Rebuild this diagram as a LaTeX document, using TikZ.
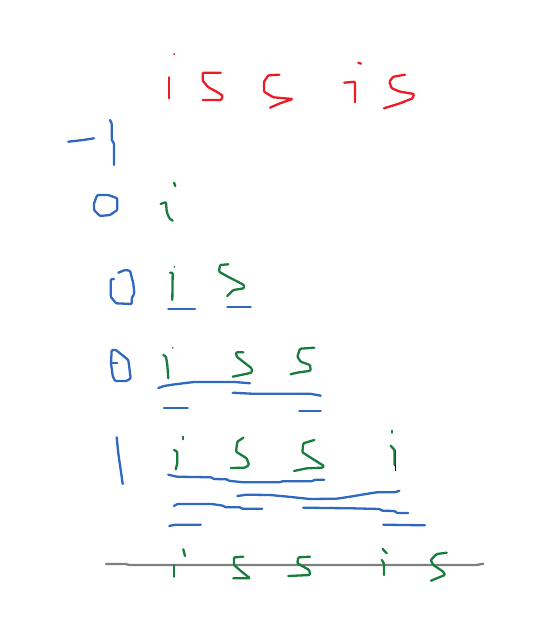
\documentclass[tikz,border=0pt]{standalone}
\usepackage{tikz}
\definecolor{penred}{RGB}{237,28,36}
\definecolor{penblue}{RGB}{48,104,192}
\definecolor{pengreen}{RGB}{24,124,60}
\definecolor{pengrey}{RGB}{127,127,127}
\tikzset{
    stroke/.style={line width=2.3pt,line join=round,line cap=round,rounded corners=1pt},
    redpen/.style={stroke,draw=penred},
    bluepen/.style={stroke,draw=penblue},
    greenpen/.style={stroke,draw=pengreen},
    greypen/.style={stroke,draw=pengrey},
}
\begin{document}
\begin{tikzpicture}[x=1pt,y=-1pt]
    \useasboundingbox (0,0) rectangle (545,642);
    % top row
    \draw [redpen,line width=1.6pt] (174,54) -- (174.2,54.2);
    \draw [redpen] (169,77.3) -- (169,98.3);
    \draw [redpen] (220.7,72.7) -- (202.7,72.7) -- (202.7,80.7) -- (208.3,87.3) -- (216.7,91.7) -- (222.7,95.7) -- (221.3,100) -- (202.7,100);
    \draw [redpen] (279.3,74.7) -- (268.3,75.3) -- (264,81.7) -- (264,91.7) -- (273.3,97.3) -- (292.7,99) -- (280,103.3) -- (270,107.7);
    \draw [redpen] (358.3,62.7) -- (361,63.7);
    \draw [redpen] (344.3,82.7) -- (355,81.7) -- (355,102.3);
    \draw [redpen] (405,74.7) -- (393.3,76.7) -- (389.3,81.7) -- (391.7,88.3) -- (400,91.7) -- (414,94) -- (412.7,98.3) -- (400,103.3) -- (384,108.3);
    % left column
    \draw [bluepen] (68.3,141.7) -- (83.3,140) -- (94,138.3);
    \draw [bluepen] (110,120) -- (111.7,123.3) -- (111.7,140) -- (114,143.3) -- (114,165);
    \draw [bluepen] (97.3,195) -- (108.3,195) -- (117.3,198.3) -- (117.3,210) -- (110,215) -- (100,216) -- (94,210) -- (94,203.3) -- cycle;
    \draw [bluepen] (114,279) -- (110.7,279.3) -- (110.7,296.7) -- (116,303.3) -- (131.7,304) -- (131.7,298.3) -- (134.3,293.3) -- (133.3,283.3) -- (130,270.7) -- (125,270) -- (118.3,272.7);
    \draw [bluepen] (111.7,350) -- (116,350) -- (128.3,360) -- (130.7,378.3) -- (126.7,381) -- (115,381) -- (112.7,376) -- (111,363.3) -- cycle;
    \draw [bluepen] (111,363.3) -- (117.3,363.3);
    \draw [bluepen] (116.7,437.3) -- (118.3,453.3) -- (120.7,470) -- (122.7,484);
    % row 1
    \draw [greenpen] (174,182.7) -- (175.3,186);
    \draw [greenpen] (160.7,204) -- (166,202) -- (166.7,211.7) -- (169.3,218.3) -- (172.7,220.7);
    % row 2
    \draw [greenpen,line width=1.6pt] (174.3,266.7) -- (174.4,267);
    \draw [greenpen] (170,272.7) -- (172.7,272.7) -- (172.3,300);
    \draw [greenpen] (228.3,264.3) -- (220,265) -- (219,271.7) -- (226.7,276) -- (244,285) -- (244,288.3) -- (233.3,290) -- (227.3,296);
    \draw [bluepen] (168.3,308.7) -- (195,308.7);
    \draw [bluepen] (227.3,306.7) -- (250.7,306.7);
    % row 3
    \draw [greenpen,line width=1.6pt] (172.7,347.7) -- (172.8,348);
    \draw [greenpen] (163.3,355) -- (166,356.7) -- (167.3,365) -- (168.3,378.3);
    \draw [greenpen] (243.3,352.3) -- (236,352.3) -- (236.7,356.7) -- (251.7,368.3) -- (251.7,372.7) -- (232.7,376.7);
    \draw [greenpen] (314.3,347.7) -- (300,348.7) -- (297.3,356.7) -- (300.7,361.7) -- (310,365) -- (310.7,370.7) -- (296.7,372.7) -- (290.7,374.3);
    \draw [bluepen] (158.3,388) -- (164,386) -- (175,384.3) -- (194,382) -- (235,382) -- (250,383.3);
    \draw [bluepen] (232.7,392.7) -- (251.7,393.7) -- (310,393.7) -- (320.7,395.7);
    \draw [bluepen] (164,407.7) -- (187.7,407.7);
    \draw [bluepen] (299.3,410.7) -- (320.7,410.7);
    % row 4
    \draw [greenpen] (182.7,436.7) -- (182.7,439.3);
    \draw [greenpen] (174,450) -- (177.3,451.7) -- (177.3,463.3) -- (175.7,469.3);
    \draw [greenpen] (243.3,437.7) -- (237.3,441.7) -- (236,451.7) -- (246.7,458.3) -- (249,465) -- (245,467.7) -- (230.7,468);
    \draw [greenpen] (314.3,440) -- (303.3,443.3) -- (302.3,452.3) -- (313.3,459.3) -- (324,466) -- (322.7,467.7) -- (306.7,468.3) -- (294,471);
    \draw [greenpen] (391.7,430.7) -- (391.7,432.7);
    \draw [black,line width=.6pt] (395.3,450) -- (395.3,470.7);
    \draw [greenpen] (390.7,445.7) -- (394.5,450) -- (394.5,465);
    \draw [bluepen] (168.3,474.7) -- (176.7,476.7) -- (211.7,477.3) -- (213.3,479) -- (227.3,479.3) -- (228.3,480.7) -- (243.3,482.3) -- (280,482.3) -- (281.7,481.3) -- (311.7,481.3) -- (315,479.7) -- (324.3,479.7);
    \draw [bluepen] (237.3,496) -- (246.7,494.7) -- (270,495) -- (288.3,496.7) -- (310,499) -- (336.7,498.7) -- (350,496.7) -- (361.7,494.7) -- (376.7,492.3) -- (395,492.3) -- (399.3,490.7);
    \draw [bluepen] (174,506) -- (177.3,504) -- (211.7,504) -- (223.3,505.7) -- (225,507.3) -- (240.7,507.3) -- (241.7,508.7) -- (262.3,508.7);
    \draw [bluepen] (303.3,507.7) -- (351.7,508.3) -- (380,509) -- (381.7,510.7) -- (395,511) -- (396.7,513) -- (408.3,513);
    \draw [bluepen] (169.3,526) -- (175,524.7) -- (200.7,524.7);
    \draw [bluepen] (383.3,524.7) -- (425,525.3);
    % bottom row
    \draw [greypen] (106,564) -- (126.7,564) -- (128.3,565) -- (476.7,565) -- (483.3,563.7);
    \draw [greenpen] (183.3,549.3) -- (185,556);
    \draw [greenpen] (173.7,565) -- (173.7,576.7);
    \draw [greenpen] (243.3,556.7) -- (234,557.3) -- (234,565) -- (241.7,571.7) -- (250,578.3) -- (233.3,578.3);
    \draw [greenpen] (310,556.7) -- (298.3,557.3) -- (297.3,563.3) -- (309.3,570) -- (310,575) -- (288.3,576);
    \draw [greenpen] (382.7,549) -- (386.7,553.3);
    \draw [greenpen] (381.7,560) -- (384,563.3) -- (384,575);
    \draw [greenpen] (446.7,552.7) -- (436.7,554) -- (430.7,560) -- (433.3,565) -- (443.3,571.7) -- (445,575) -- (436.7,578.3) -- (431,580.7);
\end{tikzpicture}
\end{document}
